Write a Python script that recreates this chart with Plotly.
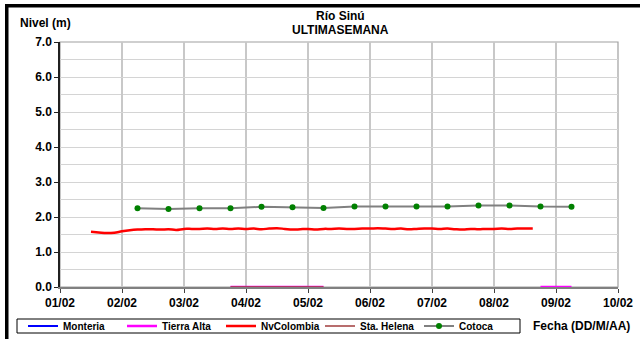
import plotly.graph_objects as go
import pandas as pd

# ---- data ----
series_names = ["Monteria", "Tierra Alta", "NvColombia", "Sta. Helena", "Cotoca"]

nv_start = "2010-02-01 12:00"
nv_values = [1.58, 1.56, 1.54, 1.55, 1.59, 1.62, 1.64, 1.65, 1.65, 1.64,
             1.65, 1.63, 1.66, 1.66, 1.66, 1.67, 1.66, 1.67, 1.66, 1.67,
             1.66, 1.67, 1.65, 1.67, 1.68, 1.66, 1.64, 1.65, 1.66, 1.64,
             1.66, 1.66, 1.67, 1.66, 1.66, 1.67, 1.67, 1.68, 1.67, 1.66,
             1.67, 1.65, 1.66, 1.67, 1.67, 1.66, 1.67, 1.65, 1.64, 1.66,
             1.65, 1.66, 1.66, 1.67, 1.66, 1.67, 1.67, 1.67]
nv_times = pd.date_range(nv_start, periods=len(nv_values), freq="3h")

cotoca_times = ["2010-02-02 06:00", "2010-02-02 18:00", "2010-02-03 06:00", "2010-02-03 18:00",
                "2010-02-04 06:00", "2010-02-04 18:00", "2010-02-05 06:00", "2010-02-05 18:00",
                "2010-02-06 06:00", "2010-02-06 18:00", "2010-02-07 06:00", "2010-02-07 18:00",
                "2010-02-08 06:00", "2010-02-08 18:00", "2010-02-09 06:00"]
cotoca_values = [2.25, 2.23, 2.25, 2.25, 2.29, 2.28, 2.26, 2.30, 2.30, 2.30,
                 2.30, 2.33, 2.33, 2.30, 2.29]

tierra_times = ["2010-02-03 18:00", "2010-02-04 06:00", "2010-02-04 18:00", "2010-02-05 06:00",
                "2010-02-06 12:00",
                "2010-02-08 18:00", "2010-02-09 06:00"]
tierra_values = [0.0, 0.0, 0.0, 0.0, None, 0.0, 0.0]

helena_times = ["2010-02-03 18:00", "2010-02-04 06:00", "2010-02-04 18:00", "2010-02-05 06:00"]
helena_values = [0.0, 0.0, 0.0, 0.0]

monteria_times = ["2010-02-05 00:00"]
monteria_values = [None]

y_ticks = [0, 1, 2, 3, 4, 5, 6, 7]
x_range = ["2010-02-01", "2010-02-10"]

title_lines = ["Río Sinú", "ULTIMASEMANA"]
y_title = "Nivel (m)"
x_title = "Fecha (DD/M/AA)"

FONT = "Liberation Sans, Arial, sans-serif"

fig = go.Figure()
fig.add_trace(go.Scatter(x=monteria_times, y=monteria_values, name=series_names[0],
                         mode="lines", line=dict(color="#0000ff", width=2)))
fig.add_trace(go.Scatter(x=tierra_times, y=tierra_values, name=series_names[1],
                         mode="lines", line=dict(color="#ff00ff", width=2.5), connectgaps=False))
fig.add_trace(go.Scatter(x=nv_times, y=nv_values, name=series_names[2],
                         mode="lines", line=dict(color="#ff0000", width=2.5, shape="spline")))
fig.add_trace(go.Scatter(x=helena_times, y=helena_values, name=series_names[3],
                         mode="lines", line=dict(color="#a03c3c", width=1.5)))
fig.add_trace(go.Scatter(x=cotoca_times, y=cotoca_values, name=series_names[4],
                         mode="lines+markers", line=dict(color="#808080", width=2),
                         marker=dict(color="#008000", size=6)))

L, R, T, B = 60, 22, 42, 52
W, H = 640, 339
pw, ph = W - L - R, H - T - B

def px(xp):
    return (xp - L) / pw

def py(yp):
    return (H - B - yp) / ph

fig.update_layout(
    width=W, height=H,
    margin=dict(l=L, r=R, t=T, b=B, autoexpand=False),
    paper_bgcolor="white", plot_bgcolor="white",
    font=dict(family=FONT, size=12, color="black", weight="bold"),
    showlegend=True,
    legend=dict(orientation="h", x=px(23), y=py(326), xanchor="left", yanchor="middle",
                borderwidth=0, bgcolor="rgba(0,0,0,0)",
                font=dict(family=FONT, size=10, color="black", weight="bold"),
                entrywidth=54, entrywidthmode="pixels", itemwidth=30,
                tracegroupgap=0),
    xaxis=dict(type="date", range=x_range, dtick=86400000, tickformat="%d/%m",
               showgrid=True, gridcolor="#c8c8c8", gridwidth=1.5,
               showline=True, linecolor="#808080", linewidth=1.5,
               ticks="outside", ticklen=4, tickcolor="#404040",
               tickfont=dict(family=FONT, size=12, color="black", weight="bold"),
               zeroline=False, fixedrange=True),
    yaxis=dict(range=[0, 7], tickvals=y_ticks, tickformat=".1f",
               showgrid=True, gridcolor="#d4d4d4", gridwidth=1,
               minor=dict(dtick=0.5, showgrid=True, gridcolor="#d4d4d4", gridwidth=1),
               showline=True, linecolor="#202020", linewidth=1.5,
               ticks="outside", ticklen=4, tickcolor="#202020",
               tickfont=dict(family=FONT, size=12, color="black", weight="bold"),
               zeroline=False, fixedrange=True),
    shapes=[
        dict(type="rect", xref="paper", yref="paper", x0=0, x1=1, y0=0, y1=1,
             line=dict(color="#a0a0a0", width=1.2), layer="below"),
        dict(type="rect", xref="paper", yref="paper", x0=px(17), x1=px(520),
             y0=py(333), y1=py(319), line=dict(color="black", width=1),
             fillcolor="white", layer="below"),
        dict(type="rect", xref="paper", yref="paper", x0=px(6.75), x1=px(700),
             y0=py(400), y1=py(5.75), line=dict(color="black", width=3.5), layer="above"),
    ],
    annotations=[
        dict(text="<b>" + title_lines[0] + "</b>",
             xref="paper", yref="paper", x=px(340), y=py(16), xanchor="center", yanchor="middle",
             showarrow=False, font=dict(family=FONT, size=12, color="black")),
        dict(text="<b>" + title_lines[1] + "</b>",
             xref="paper", yref="paper", x=px(340), y=py(29.5), xanchor="center", yanchor="middle",
             showarrow=False, font=dict(family=FONT, size=12, color="black")),
        dict(text="<b>" + y_title + "</b>", xref="paper", yref="paper",
             x=px(18), y=py(23), xanchor="left", yanchor="middle", showarrow=False,
             font=dict(family=FONT, size=12, color="black")),
        dict(text="<b>" + x_title + "</b>", xref="paper", yref="paper",
             x=px(531), y=py(326), xanchor="left", yanchor="middle", showarrow=False,
             font=dict(family=FONT, size=12, color="black")),
    ],
)

fig.write_html("out.html", config={"displayModeBar": False},
               post_script="document.body.style.margin='0px';document.body.style.overflow='hidden';")
